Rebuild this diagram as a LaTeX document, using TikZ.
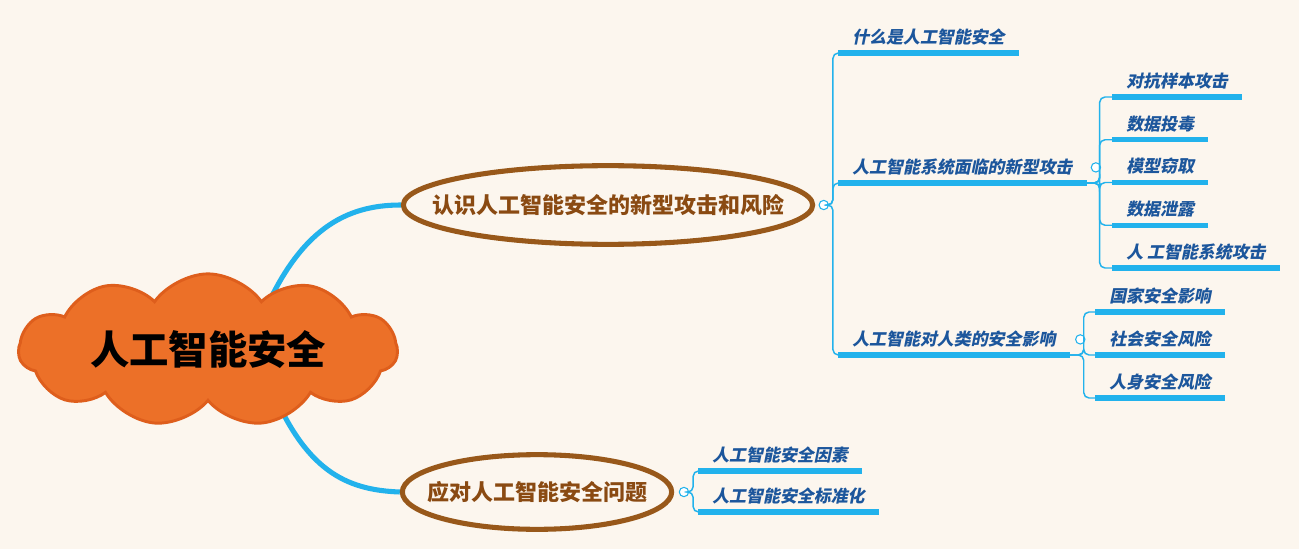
\documentclass[tikz,border=0pt]{standalone}
\usepackage{fontspec}
\setmainfont{Noto Sans CJK SC}
\newfontfamily\leaffont{Noto Sans CJK SC}[FakeSlant=0.2]
\usetikzlibrary{positioning, shapes.geometric, shapes.symbols, backgrounds, calc}
\definecolor{paperBg}{RGB}{252,246,238}
\definecolor{cloudOrange}{RGB}{236,112,40}
\definecolor{cloudEdge}{RGB}{222,94,28}
\definecolor{topicBrown}{RGB}{152,88,26}
\definecolor{topicText}{RGB}{138,74,18}
\definecolor{leafBlue}{RGB}{28,86,156}
\definecolor{lineBlue}{RGB}{34,178,236}
\tikzset{
	rootcloud/.style={cloud, cloud puffs=11, cloud puff arc=110, aspect=3.1,
		draw=cloudEdge, line width=2.2pt, fill=cloudOrange,
		minimum width=284pt, minimum height=84pt, inner sep=0pt,
		font=\fontsize{29.5}{32}\selectfont\bfseries, text=black},
	topic/.style={ellipse, draw=topicBrown, line width=3.8pt, inner ysep=0pt,
		font=\fontsize{16.5}{18}\selectfont\bfseries, text=topicText},
	leaf/.style={anchor=south west, inner xsep=10.5pt, inner ysep=5pt,
		text height=11pt, text depth=2pt, text=leafBlue,
		font=\leaffont\bfseries\fontsize{12.7}{14}\selectfont},
	uline/.style={draw=lineBlue, line width=3.8pt},
	twig/.style={draw=lineBlue, line width=1.1pt, rounded corners=4pt},
	fold/.style={circle, draw=lineBlue, fill=white, line width=0.8pt,
		minimum size=7pt, inner sep=0pt},
	spoke/.style={draw=lineBlue, line width=3.8pt}
}
\begin{document}
\begin{tikzpicture}[x=0.75pt, y=-0.75pt]
	\useasboundingbox (0,0) rectangle (1299,549);
	% central topic and main branches
	\node[rootcloud] (root) at (208,350) {人工智能安全};
	\node[topic, inner xsep=-32pt, minimum width=307pt, minimum height=59pt] (know) at (608,205) {认识人工智能安全的新型攻击和风险};
	\node[topic, inner xsep=-16pt, minimum width=202pt, minimum height=56pt] (cope) at (537,492) {应对人工智能安全问题};
	\begin{scope}[on background layer]
		\fill[paperBg] (0,0) rectangle (1299,549);
		\draw[spoke] ($(root.center)+(55,-35)$) .. controls (300,230) and (345,205) .. (know.west);
		\draw[spoke] ($(root.center)+(62,35)$) .. controls (305,470) and (345,490) .. (cope.west);
	\end{scope}
	% first branch
	\node[leaf] (what) at (838,53) {什么是人工智能安全};
	\node[leaf] (sys) at (838,183) {人工智能系统面临的新型攻击};
	\node[leaf] (human) at (838,355) {人工智能对人类的安全影响};
	\node[fold, right=2.5pt of know] (knowfold) {};
	\foreach \c in {what, sys, human}
		\draw[twig] (knowfold.east) -- ++(4,0) |- (\c.south west);
	% new attacks
	\foreach \i/\t in {1/对抗样本攻击, 2/数据投毒, 3/模型窃取, 4/数据泄露, 5/人 工智能系统攻击}
		\node[leaf] (atk\i) at (1112,{97+42.75*(\i-1)}) {\t};
	\node[fold, right=3pt of sys] (sysfold) {};
	\foreach \i in {1,...,5}
		\draw[twig] (sys.south east) -- ++(13,0) |- (atk\i.south west);
	% impact on humans
	\node[leaf] (nation) at (1095,312) {国家安全影响};
	\node[leaf] (society) at (1095,355) {社会安全风险};
	\node[leaf] (person) at (1095,398) {人身安全风险};
	\node[fold, right=4pt of human] (humanfold) {};
	\foreach \c in {nation, society, person}
		\draw[twig] (human.south east) -- ++(14,0) |- (\c.south west);
	% second branch
	\node[leaf] (factor) at (698,471) {人工智能安全因素};
	\node[leaf] (standard) at (698,512) {人工智能安全标准化};
	\node[fold, right=3.4pt of cope] (copefold) {};
	\foreach \c in {factor, standard}
		\draw[twig] (copefold.east) -- ++(4,0) |- (\c.south west);
	% underlines
	\foreach \c in {what, sys, human, atk1, atk2, atk3, atk4, atk5, nation, society, person, factor, standard}
		\draw[uline] (\c.south west) -- (\c.south east);
\end{tikzpicture}
\end{document}
